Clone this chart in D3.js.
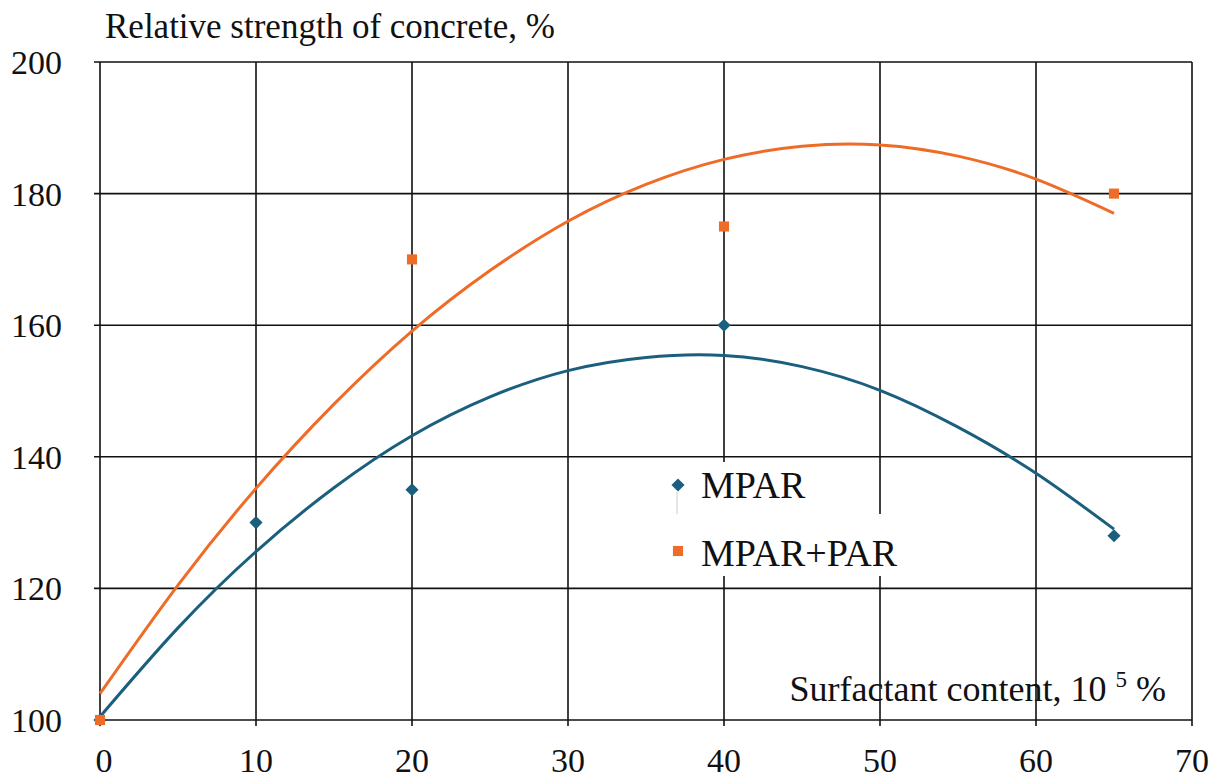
<!DOCTYPE html>
<html>
<head>
<meta charset="utf-8">
<script src="https://cdn.jsdelivr.net/npm/d3@7"></script>
<style>
  body { margin: 0; background: #fff; }
  svg text { font-family: "Liberation Serif", "Times New Roman", serif; fill: #111; }
</style>
</head>
<body>
<script>
// measured points
const mparX = [0, 10, 20, 40, 65];
const mparY = [100, 130, 135, 160, 128];
const parX = [0, 20, 40, 65];
const parY = [100, 170, 175, 180];

// trendlines
const trendX = [0, 5, 10, 15, 20, 25, 30, 35, 40, 45, 50, 55, 60, 65];
const mparTrend = [100.5, 114.0, 125.6, 135.3, 143.2, 149.1, 153.1, 155.1, 155.4, 153.7, 150.1, 144.5, 137.5, 129];
const parTrend = [104, 120.5, 135.2, 148.0, 159.1, 168.3, 175.8, 181.4, 185.2, 187.2, 187.4, 185.7, 182.2, 177.0];

const xTicks = [0, 10, 20, 30, 40, 50, 60, 70];
const yTicks = [100, 120, 140, 160, 180, 200];

const blue = "#1b5f7f", orange = "#ef6c28";
const W = 1219, H = 780;

const svg = d3.select("body").append("svg").attr("width", W).attr("height", H);

const x = d3.scaleLinear().domain([0, 70]).range([100, 1192]);
const y = d3.scaleLinear().domain([100, 200]).range([720, 62]);

// grid
const grid = svg.append("g").attr("stroke", "#111").attr("stroke-width", 1.6);
grid.selectAll(".v").data(xTicks).enter().append("line")
  .attr("x1", d => x(d)).attr("x2", d => x(d))
  .attr("y1", y(200)).attr("y2", y(100) + 6);
grid.selectAll(".h").data(yTicks).enter().append("line")
  .attr("x1", x(0) - 6).attr("x2", x(70))
  .attr("y1", d => y(d)).attr("y2", d => y(d));

// tick labels
svg.append("g").selectAll("text").data(yTicks).enter().append("text")
  .attr("x", 62).attr("y", d => y(d) + 12)
  .attr("text-anchor", "end").attr("font-size", 34)
  .text(d => d);
svg.append("g").selectAll("text").data(xTicks).enter().append("text")
  .attr("x", d => x(d) + (d === 0 ? 4 : 0)).attr("y", 772)
  .attr("text-anchor", "middle").attr("font-size", 34)
  .text(d => d);

// titles
svg.append("text").attr("x", 105).attr("y", 38).attr("font-size", 35)
  .text("Relative strength of concrete, %");
const xt = svg.append("text").attr("x", 1166).attr("y", 701)
  .attr("text-anchor", "end").attr("font-size", 36);
xt.append("tspan").text("Surfactant content, 10 ");
xt.append("tspan").attr("font-size", 23).attr("dy", -14).text("5");
xt.append("tspan").attr("dy", 14).text(" %");

// trendlines
const line = d3.line().x(d => x(d[0])).y(d => y(d[1])).curve(d3.curveNatural);
svg.append("path").datum(d3.zip(trendX, parTrend))
  .attr("fill", "none").attr("stroke", orange).attr("stroke-width", 3).attr("d", line);
svg.append("path").datum(d3.zip(trendX, mparTrend))
  .attr("fill", "none").attr("stroke", blue).attr("stroke-width", 3).attr("d", line);

// markers
const diamond = d3.symbol().type(d3.symbolDiamond2).size(110);
const square = d3.symbol().type(d3.symbolSquare2).size(130);
svg.append("g").selectAll("path").data(d3.zip(mparX, mparY)).enter().append("path")
  .attr("transform", d => `translate(${x(d[0])},${y(d[1])})`)
  .attr("d", diamond).attr("fill", blue);
svg.append("g").selectAll("path").data(d3.zip(parX, parY)).enter().append("path")
  .attr("transform", d => `translate(${x(d[0])},${y(d[1])})`)
  .attr("d", square).attr("fill", orange);

// legend
const legendItems = [
  { name: "MPAR", color: blue, sym: diamond, top: 462, h: 52, w: 175 },
  { name: "MPAR+PAR", color: orange, sym: square, top: 514, h: 62, w: 250 }
];
const lg = svg.append("g").selectAll("g").data(legendItems).enter().append("g");
lg.append("rect").attr("x", 662).attr("y", d => d.top).attr("height", d => d.h)
  .attr("width", d => d.w).attr("fill", "#fff");
svg.append("line").attr("x1", 677).attr("x2", 677).attr("y1", 492).attr("y2", 514)
  .attr("stroke", "#ddd").attr("stroke-width", 1.5);
lg.append("path").attr("d", d => d.sym()).attr("fill", d => d.color)
  .attr("transform", (d, i) => `translate(678,${i ? 551 : 485})`);
lg.append("text").attr("x", 701).attr("y", (d, i) => i ? 566 : 498)
  .attr("font-size", 38).text(d => d.name);
</script>
</body>
</html>
